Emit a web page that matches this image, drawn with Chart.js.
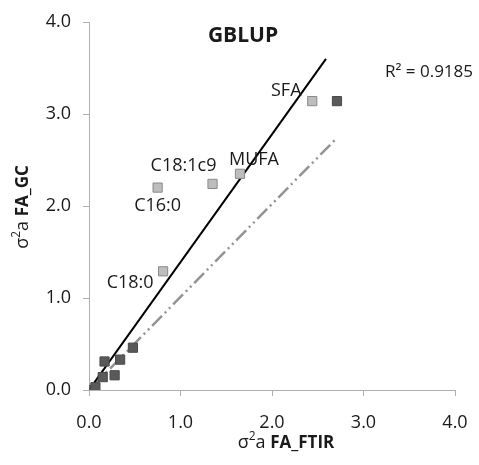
<!DOCTYPE html>
<html>
<head>
<meta charset="utf-8">
<script src="https://cdn.jsdelivr.net/npm/chart.js@4"></script>
<style>
  html, body { margin: 0; padding: 0; background: #fff; }
  #wrap { width: 479px; height: 465px; }
</style>
</head>
<body>
<div id="wrap"><canvas id="chart" width="479" height="465"></canvas></div>
<script>
// GC vs FTIR additive genetic variances (sigma^2 a)
const fattyAcidLabels = ['SFA', 'MUFA', 'C18:1c9', 'C16:0', 'C18:0'];
const fattyAcidX = [2.44, 1.65, 1.35, 0.75, 0.81];
const fattyAcidY = [3.14, 2.35, 2.24, 2.20, 1.29];

// other traits (dark squares)
const otherX = [0.01, 0.07, 0.15, 0.17, 0.28, 0.34, 0.48, 2.71];
const otherY = [0.00, 0.03, 0.14, 0.31, 0.16, 0.33, 0.46, 3.14];

// trend lines
const blackLineX = [0, 2.59];
const blackLineY = [0, 3.60];
const grayLineX = [0, 2.71];
const grayLineY = [0, 2.74];

const axisTicks = [0, 1, 2, 3, 4];
const r2Text = 'R\u00b2 = 0.9185';
const titleText = 'GBLUP';

const FONT = '"Open Sans", "Liberation Sans", sans-serif';
const zip = (xs, ys) => xs.map((x, i) => ({ x, y: ys[i] }));

// offsets for the point labels (pixels relative to the point)
const labelOffsets = {
  'SFA': [-26, -10],
  'MUFA': [14, -14],
  'C18:1c9': [-29, -18],
  'C16:0': [0, 18],
  'C18:0': [-33, 12]
};

const annotations = {
  id: 'annotations',
  afterDatasetsDraw(chart) {
    const { ctx, scales: { x, y } } = chart;
    ctx.save();
    ctx.fillStyle = '#1a1a1a';
    ctx.textAlign = 'center';
    ctx.textBaseline = 'middle';
    ctx.font = '18px ' + FONT;
    fattyAcidLabels.forEach((lab, i) => {
      const px = x.getPixelForValue(fattyAcidX[i]);
      const py = y.getPixelForValue(fattyAcidY[i]);
      const off = labelOffsets[lab];
      ctx.fillText(lab, px + off[0], py + off[1]);
    });
    // title and R2
    ctx.font = 'bold 21px ' + FONT;
    ctx.fillText(titleText, 243, 36);
    ctx.font = '17px ' + FONT;
    ctx.fillText(r2Text, 429, 72);

    // axis titles: sigma^2 a + bold part
    const mixed = (cx, cy, rot, bold) => {
      ctx.save();
      ctx.translate(cx, cy);
      ctx.rotate(rot);
      ctx.textAlign = 'left';
      ctx.textBaseline = 'alphabetic';
      ctx.font = '18px ' + FONT;
      const w1 = ctx.measureText('\u03c3').width;
      const w2 = ctx.measureText('a ').width;
      ctx.font = '12px ' + FONT;
      const ws = ctx.measureText('2').width;
      ctx.font = 'bold 17px ' + FONT;
      const wb = ctx.measureText(bold).width;
      let cur = -(w1 + ws + w2 + wb) / 2;
      ctx.font = '18px ' + FONT;
      ctx.fillText('\u03c3', cur, 6); cur += w1;
      ctx.font = '12px ' + FONT;
      ctx.fillText('2', cur, -2); cur += ws;
      ctx.font = '18px ' + FONT;
      ctx.fillText('a ', cur, 6); cur += w2;
      ctx.font = 'bold 17px ' + FONT;
      ctx.fillText(bold, cur, 6);
      ctx.restore();
    };
    mixed(286, 442, 0, 'FA_FTIR');
    mixed(22, 207, -Math.PI / 2, 'FA_GC');
    ctx.restore();
  }
};

const axisCommon = {
  type: 'linear',
  min: 0,
  max: 4,
  afterBuildTicks: (s) => { s.ticks = axisTicks.map(v => ({ value: v })); },
  border: { display: true, color: '#b0b0b0', width: 1 },
  grid: { drawOnChartArea: false, drawTicks: true, tickLength: 6, color: '#b0b0b0' },
  ticks: {
    color: '#1a1a1a',
    font: { family: FONT, size: 18 },
    callback: (v) => v.toFixed(1)
  }
};

new Chart(document.getElementById('chart'), {
  type: 'scatter',
  data: {
    datasets: [
      {
        type: 'line',
        data: zip(blackLineX, blackLineY),
        borderColor: '#000',
        borderWidth: 2,
        pointRadius: 0,
        order: 3
      },
      {
        type: 'line',
        data: zip(grayLineX, grayLineY),
        borderColor: '#939393',
        borderWidth: 2.5,
        borderDash: [14, 4, 2, 4, 2, 4],
        pointRadius: 0,
        order: 4
      },
      {
        data: zip(otherX, otherY),
        pointStyle: 'rect',
        pointRadius: 6.5,
        backgroundColor: '#5a5a5a',
        borderColor: '#4a4a4a',
        borderWidth: 1,
        order: 2
      },
      {
        data: zip(fattyAcidX, fattyAcidY),
        pointStyle: 'rect',
        pointRadius: 6.5,
        backgroundColor: '#bdbdbd',
        borderColor: '#8a8a8a',
        borderWidth: 1,
        order: 1
      }
    ]
  },
  options: {
    responsive: false,
    animation: false,
    layout: { padding: { left: 0, right: 24, top: 22, bottom: 0 } },
    plugins: { legend: { display: false }, tooltip: { enabled: false } },
    scales: {
      x: {
        ...axisCommon,
        position: 'bottom',
        ticks: { ...axisCommon.ticks, padding: 16 },
        afterFit: (s) => { s.height = 75; s.paddingLeft = 0; s.paddingRight = 0; }
      },
      y: {
        ...axisCommon,
        position: 'left',
        ticks: { ...axisCommon.ticks, padding: 12 },
        afterFit: (s) => { s.width = 89; s.paddingTop = 0; s.paddingBottom = 0; }
      }
    }
  },
  plugins: [annotations]
});
</script>
</body>
</html>
